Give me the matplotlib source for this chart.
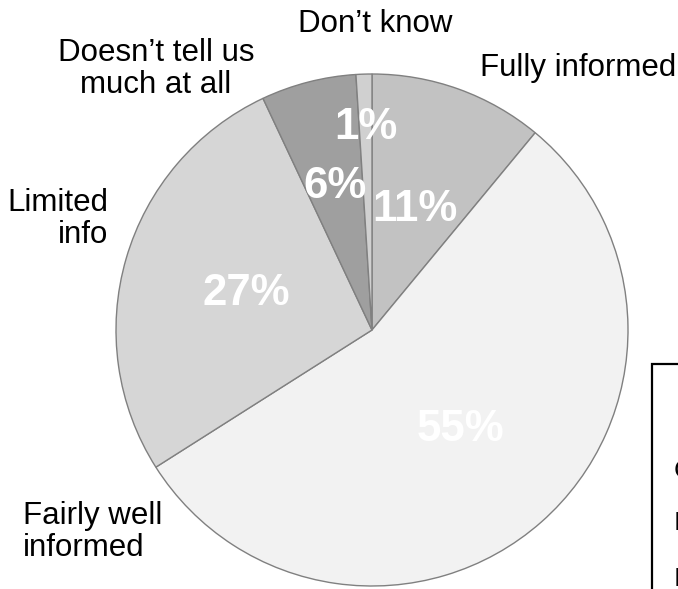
import matplotlib
matplotlib.use("Agg")
import matplotlib.pyplot as plt
from matplotlib.patches import Rectangle
import numpy as np

categories = ["Fully informed", "Fairly well\ninformed", "Limited\ninfo",
              "Doesn\u2019t tell us\nmuch at all", "Don\u2019t know"]
values = [11, 55, 27, 6, 1]
pct_labels = ["11%", "55%", "27%", "6%", "1%"]
colors = ["#c2c2c2", "#f2f2f2", "#d6d6d6", "#9f9f9f", "#d0d0d0"]

W, H = 678, 589
fig = plt.figure(figsize=(W / 100, H / 100), dpi=100)
ax = fig.add_axes([0, 0, 1, 1])
ax.set_xlim(0, W)
ax.set_ylim(0, H)
ax.set_aspect("equal")
ax.axis("off")

cx, cy, R = 372, H - 330, 256
wedges, _ = ax.pie(values, colors=colors, startangle=90, counterclock=False,
                   center=(cx, cy), radius=R, frame=True,
                   wedgeprops=dict(edgecolor="#808080", linewidth=1.0))
ax.set_xlim(0, W)
ax.set_ylim(0, H)
ax.axis("off")

font = ["Liberation Sans", "DejaVu Sans"]
# percentage labels
rfac = [0.5, 0.52, 0.51, 0.58, 0.79]
for w, lab, rf in zip(wedges, pct_labels, rfac):
    ang = np.deg2rad((w.theta1 + w.theta2) / 2)
    x = cx + rf * R * np.cos(ang)
    y = cy + rf * R * np.sin(ang)
    ax.text(x, y, lab, ha="center", va="center", color="white",
            fontsize=31.5, fontweight="bold", family=font)

# category labels (pixel positions, y from top)
lab_pos = {
    0: (480, 76, "left", "left"),
    1: (23, 556, "left", "left"),
    2: (108, 243, "right", "right"),
    3: (156, 93, "center", "center"),
    4: (375, 32, "center", "center"),
}
for i, (x, yb, ha, ma) in lab_pos.items():
    ax.text(x, H - yb, categories[i], ha=ha, va="baseline", multialignment=ma,
            fontsize=22.5, family=font, color="black", linespacing=1.08)

# clipped box at bottom right
ax.add_patch(Rectangle((652, -20), 200, H - 364 + 20, fill=False,
                       edgecolor="black", linewidth=1.6, clip_on=False))
for letter, yb in [("C", 478), ("I", 530), ("I", 586)]:
    ax.text(674, H - yb, letter, ha="left", va="baseline", fontsize=19,
            family=font, color="black", clip_on=False)

fig.savefig("out.png", dpi=100)
